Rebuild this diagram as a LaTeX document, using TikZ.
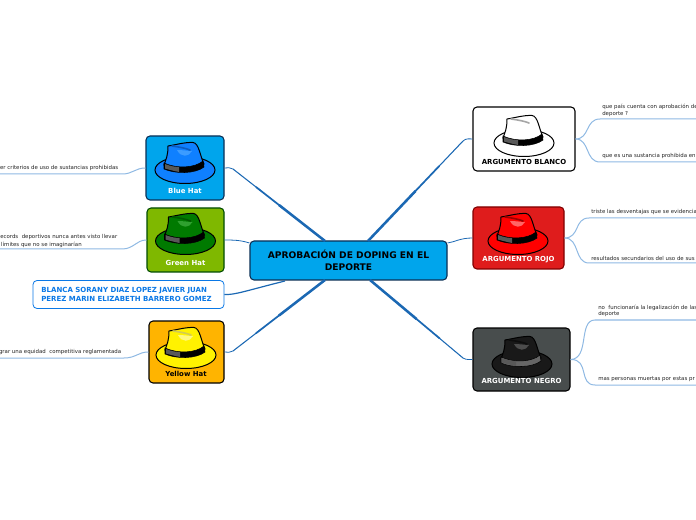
\documentclass[tikz,border=0pt]{standalone}
\usepackage{fontspec}
\setmainfont{DejaVu Sans}
\usetikzlibrary{calc}
\definecolor{rootfill}{HTML}{00A5EC}
\definecolor{rootline}{HTML}{0B2F55}
\definecolor{trunkblue}{HTML}{1B68B3}
\definecolor{leafblue}{HTML}{8FB9E3}
\definecolor{namesblue}{HTML}{0A78E6}
\definecolor{greenbox}{HTML}{7FB800}
\definecolor{yellowbox}{HTML}{FFB400}
\definecolor{redbox}{HTML}{DF1C1C}
\definecolor{blackbox}{HTML}{484D4D}
\definecolor{leaftext}{HTML}{222222}
\definecolor{hatblue}{HTML}{0F80FF}
\definecolor{hatbluelight}{HTML}{3C9CFF}
\definecolor{hatbluedark}{HTML}{0B5CC0}
\definecolor{hatgreen}{HTML}{007A00}
\definecolor{hatgreenlight}{HTML}{2FA02F}
\definecolor{hatgreendark}{HTML}{005A00}
\tikzset{
	hatbox/.style={draw,rounded corners=3pt,line width=0.8pt,inner sep=0pt},
	hatlabel/.style={font=\bfseries\fontsize{5.2}{6}\selectfont},
	leaflabel/.style={font=\fontsize{4.07}{5.3}\selectfont,text=leaftext,inner sep=0pt,align=left},
	leafline/.style={leafblue,line width=0.75pt},
	trunk/.style={trunkblue,line width=0.6pt}
}
% hat: position, main colour, light colour, streak colour, band colour
\newcommand{\drawhat}[5]{
	\begin{scope}[shift={#1}]
		\draw[black,fill=#2,line width=0.75pt] (0,0) ellipse (30 and 13.5);
		\draw[black,fill=#2,line width=0.75pt] (-21,-5) .. controls (-19,-11) and (-17,-14) .. (-17,-24)
		.. controls (-10,-25) and (0,-28) .. (8,-27.5)
		.. controls (14,-27) and (15,-14) .. (19,-6) .. controls (10,2) and (-10,2) .. cycle;
		\fill[#3] (-8,-20) .. controls (-2,-20) and (3,-19) .. (7,-19) .. controls (4,-13) and (-4,-12) .. cycle;
		\draw[#4,line width=1.2pt,line cap=round] (-13,-24) .. controls (-6,-23) and (0,-22) .. (5,-20);
		\fill[#5,draw=black,line width=0.4pt] (-21,-7) .. controls (-8,-1) and (10,-2) .. (18,-9)
		-- (19,-3) .. controls (10,4) and (-10,4) .. (-21,-1) -- cycle;
		\fill[gray!70!black] (-20,-6) .. controls (-15,-4) and (-10,-3) .. (-6,-3) -- (-6,2) .. controls (-11,1) and (-15,0) .. (-20,-1.5) -- cycle;
	\end{scope}
}
% tapered branch, thick at the root end
\newcommand{\taper}[2]{
	\draw[trunkblue,line width=1.9pt] (#1) -- ($(#1)!.5!(#2)$);
	\draw[trunkblue,line width=1.3pt] ($(#1)!.45!(#2)$) -- ($(#1)!.75!(#2)$);
	\draw[trunkblue,line width=0.8pt] ($(#1)!.7!(#2)$) -- (#2);
}
\begin{document}
\begin{tikzpicture}[x=0.75pt,y=-0.75pt]
	\useasboundingbox (0,0) rectangle (696,520);
	\node[hatbox,fill=rootfill,draw=rootline,minimum width=147.75pt,minimum height=29.25pt,font=\bfseries\fontsize{6.85}{9}\selectfont,align=center] (root) at (348.5,260.5) {APROBACIÓN DE DOPING EN EL\\DEPORTE};
	% left hats
	\node[hatbox,fill=rootfill,draw=rootline,minimum width=58.5pt,minimum height=48pt] (bluehat) at (185,168) {};
	\node[hatbox,fill=greenbox,draw=green!30!black,minimum width=57.75pt,minimum height=48pt] (greenhat) at (185.5,240) {};
	\node[hatbox,fill=white,draw=namesblue,line width=0.6pt,minimum width=143.25pt,minimum height=21pt,text=namesblue,font=\bfseries\fontsize{5.25}{7}\selectfont,align=left] (names) at (128.5,294.5) {BLANCA SORANY DIAZ LOPEZ JAVIER JUAN\hspace*{3pt}\\PEREZ MARIN ELIZABETH BARRERO GOMEZ\hspace*{3pt}};
	\node[hatbox,fill=yellowbox,draw=black,minimum width=56.25pt,minimum height=46.5pt] (yellowhat) at (186.5,352) {};
	% right hats
	\node[hatbox,fill=white,draw=black,minimum width=76.5pt,minimum height=48pt] (whitehat) at (524,139) {};
	\node[hatbox,fill=redbox,draw=red!50!black,minimum width=68.25pt,minimum height=46.5pt] (redhat) at (518.5,238) {};
	\node[hatbox,fill=blackbox,draw=black,minimum width=72.75pt,minimum height=47.25pt] (blackhat) at (521.5,359.5) {};

	\drawhat{(185,170)}{hatblue}{hatbluelight}{hatbluedark}{black}
	\drawhat{(185.5,241)}{hatgreen}{hatgreenlight}{hatgreendark}{black}
	\drawhat{(186,355)}{yellow}{yellow!50!white}{yellow!60!gray}{black}
	\drawhat{(524,143)}{white}{white}{gray!70}{black}
	\drawhat{(518,241)}{red}{red!60!white}{red!60!black}{black}
	\drawhat{(522,364)}{black!90}{black!70}{black!95}{black!60}

	\node[hatlabel,white] (bluelabel) at (185,190.5) {Blue Hat};
	\node[hatlabel,white] (greenlabel) at (185.5,263) {Green Hat};
	\node[hatlabel,black] (yellowlabel) at (186,373.5) {Yellow Hat};
	\node[hatlabel,black] (whitelabel) at (524,161.5) {ARGUMENTO BLANCO};
	\node[hatlabel,white] (redlabel) at (518.5,259.5) {ARGUMENTO ROJO};
	\node[hatlabel,white] (blacklabel) at (521.5,381) {ARGUMENTO NEGRO};

	% elbows next to the hats
	\coordinate (blueelbow) at (233,169);
	\coordinate (yellowelbow) at (233,351);
	\coordinate (whiteelbow) at (463,141);
	\coordinate (blackelbow) at (463,358);
	\coordinate (rootnw) at (325,241);
	\coordinate (rootsw) at (325,280);
	\coordinate (rootne) at (368,241);
	\coordinate (rootse) at (370,280);
	\taper{rootnw}{blueelbow}
	\taper{rootsw}{yellowelbow}
	\taper{rootne}{whiteelbow}
	\taper{rootse}{blackelbow}
	\draw[trunk] (blueelbow) .. controls (230,167) and (228,168) .. (bluehat.east);
	\draw[trunk] (yellowelbow) .. controls (230,353) and (228,352) .. (yellowhat.east);
	\draw[trunk] (whiteelbow) .. controls (466,138) and (470,139) .. (whitehat.west);
	\draw[trunk] (blackelbow) .. controls (466,360) and (470,359.5) .. (blackhat.west);
	\draw[trunk] (greenhat.east) .. controls (233,240) and (240,240) .. (root.west |- 0,243);
	\draw[trunk] (root.east |- 0,243) .. controls (455,242) and (460,238) .. (redhat.west);
	\draw[trunkblue,line width=0.9pt] (names.east) .. controls (235,295) and (245,291) .. (285,281);

	% leaves left
	\coordinate (blueend) at (0,174);
	\coordinate (greenend) at (0,249);
	\coordinate (yellowend) at (0,358);
	\draw[leafline] (bluehat.west) .. controls (135,168) and (133,174) .. (122,174) -- (blueend);
	\draw[leafline] (greenhat.west) .. controls (136,240) and (134,249) .. (122,249) -- (greenend);
	\draw[leafline] (yellowhat.west) .. controls (138,352) and (136,358) .. (124,358) -- (yellowend);
	\node[leaflabel,anchor=east] (bluetext) at (118.5,168) {er criterios de uso de sustancias prohibidas};
	\node[leaflabel,anchor=west] (greentext) at (0,241) {ecords\ \ deportivos nunca antes visto llevar\\\hspace*{0.7pt}límites que no se imaginarían};
	\node[leaflabel,anchor=east] (yellowtext) at (121.5,352) {grar una equidad\ \ competitiva reglamentada};

	% leaves right
	\coordinate (whiteupend) at (696,119);
	\coordinate (whitedownend) at (696,162);
	\coordinate (redupend) at (696,218);
	\coordinate (reddownend) at (696,263);
	\coordinate (blackupend) at (696,320);
	\coordinate (blackdownend) at (696,385);
	\draw[leafline] (whitehat.east) .. controls (590,139) and (585,119) .. (600,119) -- (whiteupend);
	\draw[leafline] (whitehat.east) .. controls (590,139) and (585,162) .. (600,162) -- (whitedownend);
	\draw[leafline] (redhat.east) .. controls (580,238) and (574,218) .. (589,218) -- (redupend);
	\draw[leafline] (redhat.east) .. controls (580,238) and (574,263) .. (589,263) -- (reddownend);
	\draw[leafline] (blackhat.east) .. controls (590,359) and (578,320) .. (595,320) -- (blackupend);
	\draw[leafline] (blackhat.east) .. controls (590,359) and (578,385) .. (595,385) -- (blackdownend);
	\node[leaflabel,anchor=west] (whiteuptext) at (602,110.5) {que país cuenta con aprobación de\\deporte ?};
	\node[leaflabel,anchor=west] (whitedowntext) at (602,156) {que es una sustancia prohibida en};
	\node[leaflabel,anchor=west] (reduptext) at (591,212) {triste las desventajas que se evidencia};
	\node[leaflabel,anchor=west] (reddowntext) at (591,258) {resultados secundarios del uso de sus};
	\node[leaflabel,anchor=west] (blackuptext) at (598,311) {no\ \ funcionaría la legalización de las\\[-0.8pt]deporte};
	\node[leaflabel,anchor=west] (blackdowntext) at (598,379) {mas personas muertas por estas pr};
\end{tikzpicture}
\end{document}
